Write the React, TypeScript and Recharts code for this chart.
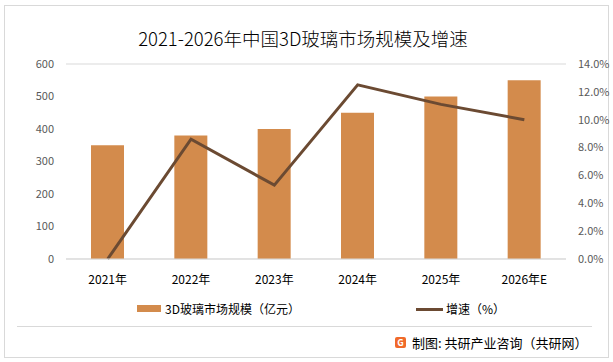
import { ComposedChart, Bar, Line, XAxis, YAxis, CartesianGrid } from 'recharts';

const years = ['2021年', '2022年', '2023年', '2024年', '2025年', '2026年E'];
const marketSize = [350, 380, 400, 450, 500, 550];
const growth = [0, 8.6, 5.3, 12.5, 11.1, 10.0];
const leftTicks = [0, 100, 200, 300, 400, 500, 600];
const rightTicks = [0, 2, 4, 6, 8, 10, 12, 14];

const FONT = '"Noto Sans CJK SC", "Noto Sans", sans-serif';
const BAR_COLOR = '#D38B4C';
const LINE_COLOR = '#6B4A32';

const data = years.map((y, i) => ({ year: y, size: marketSize[i], rate: growth[i] }));

export default function App() {
  return (
    <div style={{ position: 'absolute', left: 0, top: 0, width: 613, height: 362, background: '#fff', fontFamily: FONT }}>
      <div style={{ position: 'absolute', left: 4, top: 5, width: 603, height: 351, border: '1px solid #D9D9D9' }} />
      <div style={{ position: 'absolute', left: 0, top: 25, width: 606, textAlign: 'center', fontSize: 18.5, fontWeight: 300, color: '#000' }}>
        2021-2026年中国3D玻璃市场规模及增速
      </div>
      <ComposedChart
        width={613}
        height={362}
        data={data}
        margin={{ top: 64, right: 7, bottom: 73, left: 16 }}
        style={{ position: 'absolute', left: 0, top: 0 }}
      >
        <CartesianGrid vertical={false} stroke="#D9D9D9" />
        <XAxis
          dataKey="year"
          axisLine={{ stroke: '#D9D9D9' }}
          tickLine={false}
          tickMargin={10}
          height={30}
          tick={{ fontSize: 12, fill: '#000', fontFamily: FONT }}
        />
        <YAxis
          yAxisId="left"
          width={50}
          domain={[0, 600]}
          ticks={leftTicks}
          axisLine={false}
          tickLine={false}
          tickMargin={6}
          tick={{ fontSize: 11, fill: '#595959', fontFamily: FONT }}
        />
        <YAxis
          yAxisId="right"
          orientation="right"
          width={40}
          domain={[0, 14]}
          ticks={rightTicks}
          axisLine={false}
          tickLine={false}
          tickMargin={6}
          tickFormatter={(v: number) => `${v.toFixed(1)}%`}
          tick={{ fontSize: 11, fill: '#595959', fontFamily: FONT }}
        />
        <Bar yAxisId="left" dataKey="size" fill={BAR_COLOR} barSize={33} isAnimationActive={false} />
        <Line
          yAxisId="right"
          dataKey="rate"
          type="linear"
          stroke={LINE_COLOR}
          strokeWidth={3}
          dot={false}
          isAnimationActive={false}
        />
      </ComposedChart>
      {/* legend */}
      <div style={{ position: 'absolute', left: 137, top: 305, width: 24, height: 7, background: BAR_COLOR }} />
      <div style={{ position: 'absolute', left: 165, top: 300, fontSize: 12, lineHeight: '18px', color: '#000' }}>
        3D玻璃市场规模（亿元）
      </div>
      <div style={{ position: 'absolute', left: 416, top: 308, width: 27, height: 3, background: LINE_COLOR }} />
      <div style={{ position: 'absolute', left: 446, top: 300, fontSize: 12, lineHeight: '18px', color: '#000' }}>
        增速（%）
      </div>
      {/* footer */}
      <div style={{ position: 'absolute', left: 17, top: 326, width: 575, height: 1, background: '#D9D9D9' }} />
      <div
        style={{
          position: 'absolute',
          left: 395,
          top: 337,
          width: 11,
          height: 11,
          borderRadius: 2,
          background: '#F06A2A',
          color: '#fff',
          fontSize: 9,
          fontWeight: 700,
          lineHeight: '11px',
          textAlign: 'center',
        }}
      >
        G
      </div>
      <div style={{ position: 'absolute', left: 412, top: 334, fontSize: 13, lineHeight: '18px', color: '#000' }}>
        制图: 共研产业咨询（共研网）
      </div>
    </div>
  );
}
